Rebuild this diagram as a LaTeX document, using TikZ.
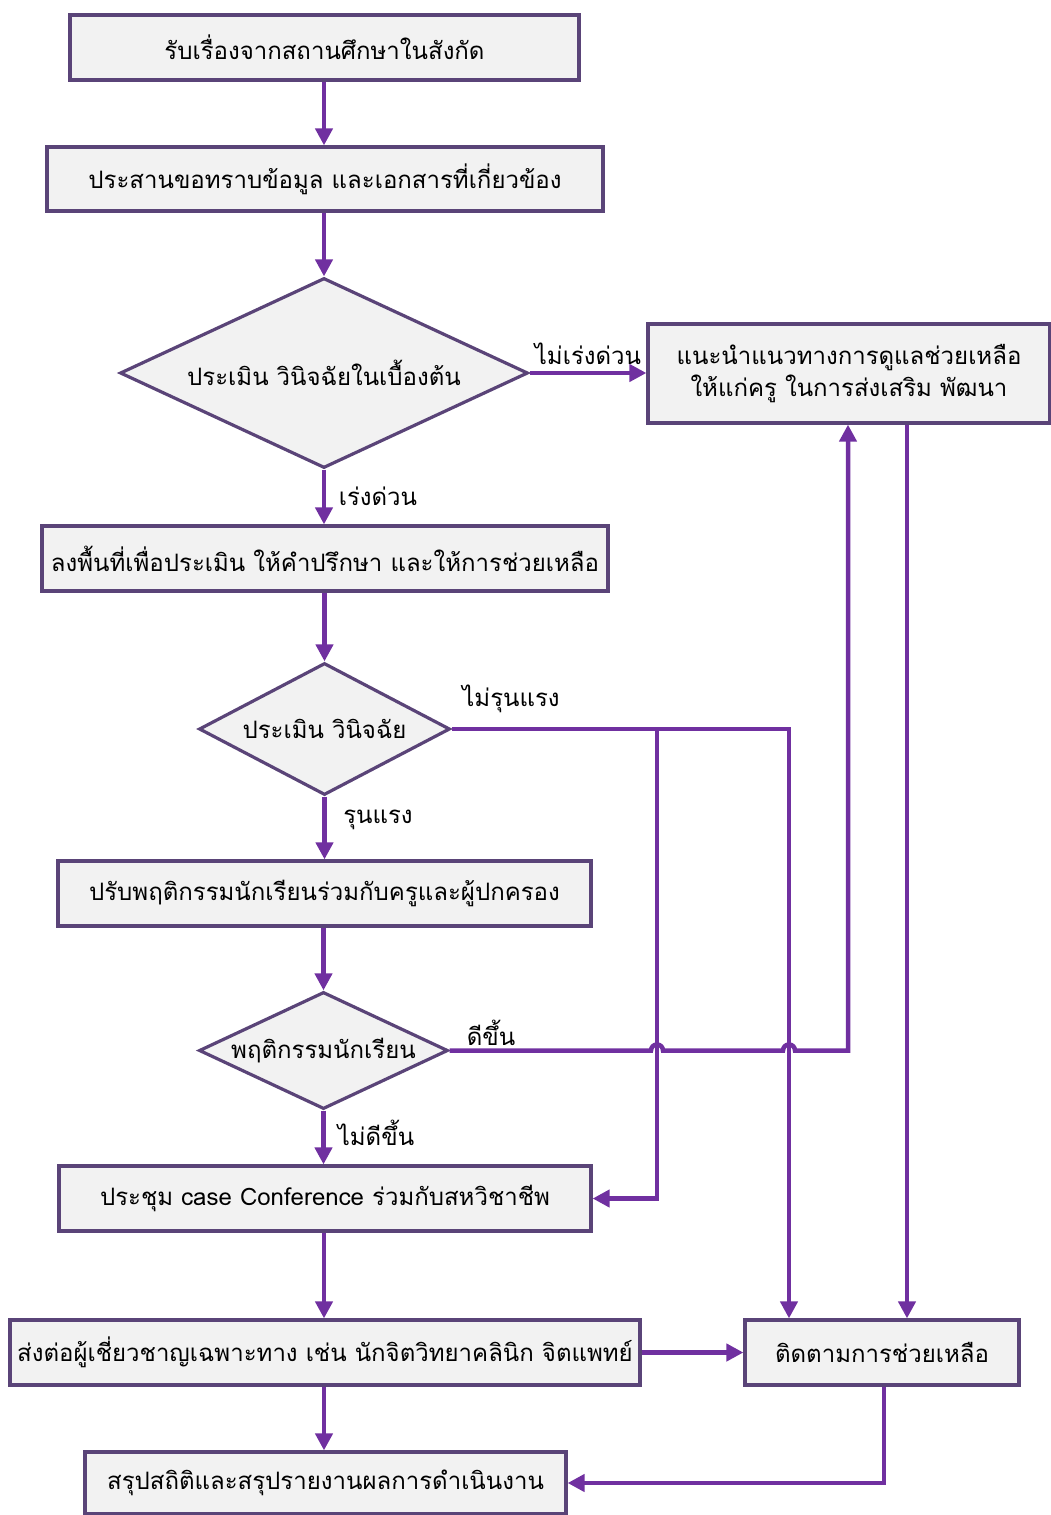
\documentclass[tikz,border=0pt]{standalone}
\usepackage{fontspec}
\newfontfamily\thaifont[Script=Thai]{Loma}
\usetikzlibrary{shapes.geometric,arrows.meta}
\definecolor{lineP}{HTML}{7030A0}
\definecolor{boxB}{HTML}{5A4478}
\definecolor{boxF}{HTML}{F2F2F2}
\begin{document}
\begin{tikzpicture}[x=1pt,y=-1pt,
  font=\thaifont\fontsize{24}{32}\selectfont,
  box/.style={draw=boxB,fill=boxF,line width=3.2pt,rectangle,inner sep=0pt,align=center},
  dia/.style={draw=boxB,fill=boxF,line width=3.2pt,diamond,inner sep=0pt,aspect=2},
  arr/.style={draw=lineP,line width=4.5pt,-{Triangle[length=17pt,width=17pt]}},
  lbl/.style={inner sep=0pt}]
\useasboundingbox (0,0) rectangle (1051,1515);
\node[box,minimum width=509pt,minimum height=65pt] (b1) at (324.5,47.5) {รับเรื่องจากสถานศึกษาในสังกัด};
\node[box,minimum width=556pt,minimum height=64pt] (b2) at (325,179) {ประสานขอทราบข้อมูล และเอกสารที่เกี่ยวข้อง};
\node[dia,minimum width=408pt,minimum height=190pt] (d1) at (324,373) {ประเมิน วินิจฉัยในเบื้องต้น};
\node[box,minimum width=402pt,minimum height=99pt] (br) at (849,373.5) {แนะนำแนวทางการดูแลช่วยเหลือ\\ให้แก่ครู ในการส่งเสริม พัฒนา};
\node[box,minimum width=566pt,minimum height=65pt] (b3) at (325,558.5) {ลงพื้นที่เพื่อประเมิน ให้คำปรึกษา และให้การช่วยเหลือ};
\node[dia,minimum width=251pt,minimum height=132pt] (d2) at (324.5,729) {ประเมิน วินิจฉัย};
\node[box,minimum width=533pt,minimum height=65pt] (b4) at (324.5,893.5) {ปรับพฤติกรรมนักเรียนร่วมกับครูและผู้ปกครอง};
\node[dia,minimum width=249pt,minimum height=115pt] (d3) at (323.5,1050.5) {พฤติกรรมนักเรียน};
\node[box,minimum width=532pt,minimum height=65pt] (b5) at (325,1198.5) {ประชุม case Conference ร่วมกับสหวิชาชีพ};
\node[box,minimum width=630pt,minimum height=65pt] (b6) at (325,1352.5) {ส่งต่อผู้เชี่ยวชาญเฉพาะทาง เช่น นักจิตวิทยาคลินิก จิตแพทย์};
\node[box,minimum width=274pt,minimum height=65pt] (b7) at (882,1352.5) {ติดตามการช่วยเหลือ};
\node[box,minimum width=481pt,minimum height=62pt] (b8) at (325.5,1483) {สรุปสถิติและสรุปรายงานผลการดำเนินงาน};
% main flow
\draw[arr] (b1.south -| 324,0) -- (b2.north -| 324,0);
\draw[arr] (b2.south -| 324,0) -- (d1.north);
\draw[arr] (d1.east) -- (br.west |- d1.east);
\draw[arr] (d1.south) -- (b3.north -| d1.south);
\draw[arr] (b3.south -| d2.north) -- (d2.north);
\draw[arr] (d2.south) -- (b4.north -| d2.south);
\draw[arr] (b4.south -| d3.north) -- (d3.north);
\draw[arr] (d3.south) -- (b5.north -| d3.south);
\draw[arr] (b5.south -| 324,0) -- (b6.north -| 324,0);
\draw[arr] (b6.south -| 324,0) -- (b8.north -| 324,0);
\draw[arr] (b6.east) -- (b7.west);
% not severe
\coordinate (c1) at (789,729);
\coordinate (j1) at (657,729);
\draw[arr] (d2.east) -- (c1) -- (c1 |- b7.north);
\draw[arr] (j1) |- (b5.east);
% improved, with hops
\coordinate (c2) at (848,1050.5);
\draw[arr] (d3.east) -- (651,1050.5) arc[start angle=180,end angle=0,radius=6pt] -- (783,1050.5) arc[start angle=180,end angle=0,radius=6pt] -- (c2) -- (c2 |- br.south);
% right column
\coordinate (c3) at (907,0);
\draw[arr] (c3 |- br.south) -- (c3 |- b7.north);
\coordinate (c4) at (884,1483);
\draw[arr] (c4 |- b7.south) -- (c4) -- (b8.east);
% labels
\node[lbl] (l1) at (588,354) {ไม่เร่งด่วน};
\node[lbl] (l2) at (378,496) {เร่งด่วน};
\node[lbl] (l3) at (511,699) {ไม่รุนแรง};
\node[lbl] (l4) at (378,820) {รุนแรง};
\node[lbl] (l5) at (491,1033) {ดีขึ้น};
\node[lbl] (l6) at (376,1133) {ไม่ดีขึ้น};
\end{tikzpicture}
\end{document}
